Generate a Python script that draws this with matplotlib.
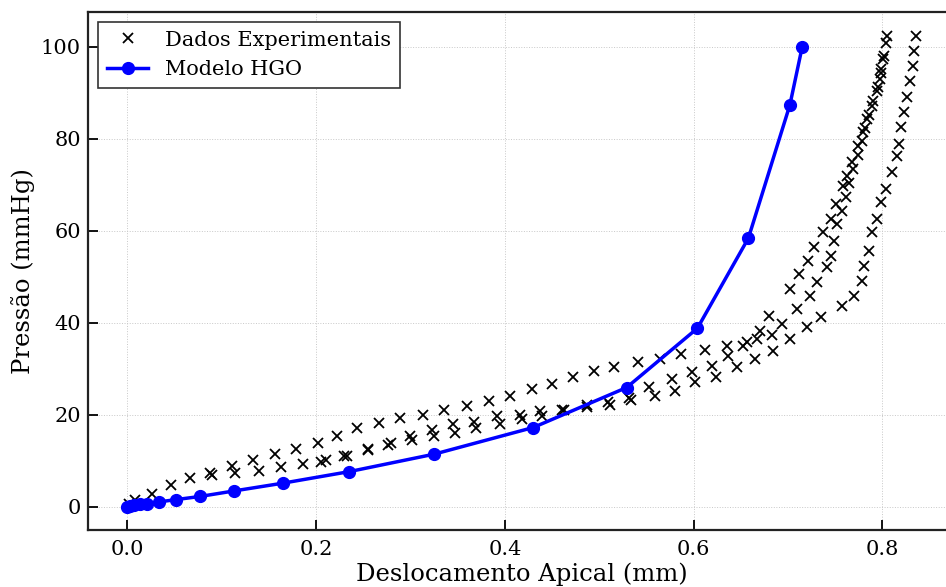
import matplotlib
matplotlib.use("Agg")
import matplotlib.pyplot as plt

# Experimental data (three branches)
exp1_x = [0.002, 0.008, 0.026, 0.046, 0.066, 0.088, 0.111, 0.133, 0.156, 0.179, 0.202, 0.222,
          0.243, 0.267, 0.289, 0.313, 0.335, 0.360, 0.383, 0.405, 0.429, 0.450, 0.472, 0.494,
          0.516, 0.541, 0.564, 0.587, 0.612, 0.635, 0.656, 0.670, 0.680, 0.702, 0.712, 0.721,
          0.728, 0.737, 0.746, 0.751, 0.758, 0.762, 0.768, 0.774, 0.779, 0.784, 0.789, 0.794,
          0.797, 0.799, 0.802, 0.805]
exp1_y = [0.6, 1.5, 2.8, 4.6, 6.3, 7.2, 8.9, 10.2, 11.5, 12.6, 13.9, 15.3,
          17.0, 18.1, 19.2, 20.0, 20.9, 21.8, 22.9, 24.0, 25.5, 26.6, 28.1, 29.4,
          30.3, 31.4, 32.0, 33.1, 34.0, 34.9, 35.7, 38.1, 41.4, 47.3, 50.5, 53.4,
          56.4, 59.7, 62.5, 65.8, 69.7, 71.9, 74.9, 78.4, 81.5, 84.3, 87.1, 90.4,
          93.0, 95.2, 98.0, 102.4]

exp2_x = [0.090, 0.114, 0.139, 0.163, 0.186, 0.205, 0.229, 0.255, 0.279, 0.299, 0.323, 0.345,
          0.367, 0.392, 0.416, 0.437, 0.461, 0.487, 0.509, 0.532, 0.553, 0.577, 0.598, 0.619,
          0.636, 0.652, 0.667, 0.683, 0.694, 0.709, 0.723, 0.731, 0.741, 0.746, 0.749, 0.752,
          0.757, 0.761, 0.765, 0.769, 0.774, 0.778, 0.782, 0.786, 0.790, 0.795, 0.798, 0.801,
          0.804]
exp2_y = [6.8, 7.4, 7.8, 8.7, 9.2, 9.8, 10.9, 12.6, 13.9, 15.3, 16.6, 17.9,
          18.5, 19.6, 20.0, 20.7, 21.1, 22.0, 22.7, 23.7, 26.1, 27.7, 29.2, 30.5,
          32.7, 34.9, 36.4, 37.3, 39.7, 42.9, 45.8, 48.8, 52.1, 54.5, 57.7, 61.4,
          64.3, 67.3, 70.4, 73.4, 76.5, 79.5, 82.4, 85.2, 88.2, 91.3, 94.3, 97.4,
          100.9]

exp3_x = [0.836, 0.834, 0.832, 0.829, 0.826, 0.823, 0.820, 0.818, 0.815, 0.810, 0.804, 0.799,
          0.794, 0.789, 0.786, 0.781, 0.778, 0.770, 0.757, 0.735, 0.720, 0.702, 0.684, 0.665,
          0.646, 0.624, 0.601, 0.580, 0.559, 0.534, 0.511, 0.487, 0.463, 0.439, 0.418, 0.395,
          0.369, 0.347, 0.325, 0.302, 0.276, 0.255, 0.233, 0.210]
exp3_y = [102.4, 99.1, 95.9, 92.6, 89.1, 85.8, 82.6, 78.9, 76.3, 72.8, 69.1, 66.2,
          62.5, 59.7, 55.6, 52.3, 49.0, 45.8, 43.6, 41.2, 39.0, 36.4, 33.8, 32.0,
          30.3, 28.1, 27.0, 25.1, 24.0, 23.1, 22.2, 21.6, 20.9, 19.6, 19.0, 17.9,
          17.0, 16.1, 15.3, 14.4, 13.3, 12.4, 11.1, 10.2]

# HGO model
hgo_x = [0.0, 0.003, 0.007, 0.013, 0.021, 0.033, 0.051, 0.077, 0.113, 0.165, 0.235,
         0.325, 0.430, 0.529, 0.604, 0.658, 0.702, 0.715]
hgo_y = [0.0, 0.15, 0.3, 0.45, 0.65, 1.0, 1.5, 2.2, 3.4, 5.1, 7.6,
         11.4, 17.2, 25.9, 38.8, 58.4, 87.4, 100.0]

plt.rcParams['font.family'] = ['DejaVu Serif']

fig = plt.figure(figsize=(9.46, 5.87), dpi=100)
ax = fig.add_axes([88/946, 57/587, 868/946, 518/587])

kw = dict(linestyle='none', marker='x', color='black', markersize=7.5, markeredgewidth=1.3)
ax.plot(exp1_x, exp1_y, label='Dados Experimentais', **kw)
ax.plot(exp2_x, exp2_y, **kw)
ax.plot(exp3_x, exp3_y, **kw)
ax.plot(hgo_x, hgo_y, '-o', color='blue', linewidth=2.5, markersize=8.5, label='Modelo HGO', zorder=3)

ax.set_xlim(-0.0418, 0.878)
ax.set_ylim(-5.1, 107.6)
ax.set_xticks([0.0, 0.2, 0.4, 0.6, 0.8])
ax.set_yticks([0, 20, 40, 60, 80, 100])
ax.grid(True, linestyle=':', color='#c8c8c8', linewidth=0.7)
ax.tick_params(direction='in', length=7, width=1.3, labelsize=15)
ax.tick_params(axis='x', pad=7)
ax.tick_params(axis='y', pad=5)
for s in ax.spines.values():
    s.set_linewidth(1.6)
    s.set_color('#222222')

ax.set_xlabel('Deslocamento Apical (mm)', fontsize=17.5, labelpad=3)
ax.set_ylabel('Pressão (mmHg)', fontsize=17.5, labelpad=4)

leg = ax.legend(loc='upper left', fontsize=15, fancybox=False, framealpha=1,
                edgecolor='#333333', borderaxespad=0.5)
leg.get_frame().set_linewidth(1.2)

fig.savefig('out.png', dpi=100)
